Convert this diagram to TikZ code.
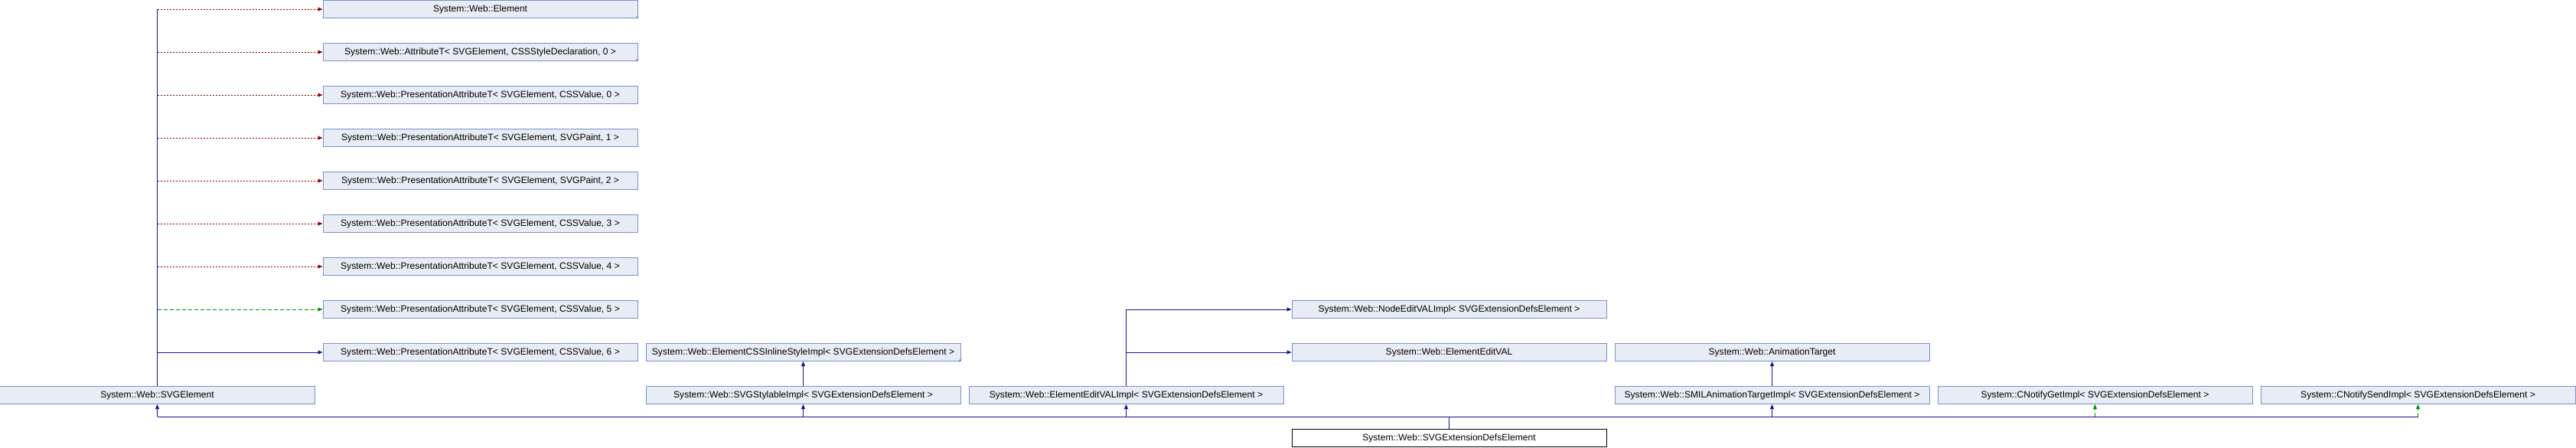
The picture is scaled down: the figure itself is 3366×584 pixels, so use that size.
\documentclass[tikz,border=0pt]{standalone}
\usepackage{fontspec}
\setmainfont{Liberation Sans}
\usepackage{tikz}
\usetikzlibrary{arrows.meta}

\definecolor{boxfill}{RGB}{232,236,245}
\definecolor{boxline}{RGB}{122,146,200}
\definecolor{pubblue}{RGB}{20,20,150}
\definecolor{privred}{RGB}{150,0,0}
\definecolor{protgreen}{RGB}{0,150,0}

\begin{document}
\begin{tikzpicture}[x=422pt,y=-56pt,
    cls/.style={draw=boxline,fill=boxfill,line width=1pt,minimum width=411pt,
      minimum height=23pt,inner sep=0pt,font=\fontsize{12.1}{14}\selectfont},
    me/.style={cls,draw=black,fill=white},
    pub/.style={draw=pubblue,line width=1pt},
    prot/.style={draw=protgreen,line width=1pt,dash pattern=on 5pt off 3pt},
    priv/.style={draw=privred,line width=1pt,dash pattern=on 2pt off 2pt},
    tip/.style={-{Triangle[length=6pt,width=5pt]}}]
    \useasboundingbox (-205.5pt,12pt) rectangle (3160.5pt,-572pt);

    % left column
    \node[cls] (elem) at (1,0) {System::Web::Element};
    \node[cls] (attr) at (1,1) {System::Web::AttributeT< SVGElement, CSSStyleDeclaration, 0 >};
    \node[cls] (pa0) at (1,2) {System::Web::PresentationAttributeT< SVGElement, CSSValue, 0 >};
    \node[cls] (pa1) at (1,3) {System::Web::PresentationAttributeT< SVGElement, SVGPaint, 1 >};
    \node[cls] (pa2) at (1,4) {System::Web::PresentationAttributeT< SVGElement, SVGPaint, 2 >};
    \node[cls] (pa3) at (1,5) {System::Web::PresentationAttributeT< SVGElement, CSSValue, 3 >};
    \node[cls] (pa4) at (1,6) {System::Web::PresentationAttributeT< SVGElement, CSSValue, 4 >};
    \node[cls] (pa5) at (1,7) {System::Web::PresentationAttributeT< SVGElement, CSSValue, 5 >};
    \node[cls] (pa6) at (1,8) {System::Web::PresentationAttributeT< SVGElement, CSSValue, 6 >};
    \node[cls] (svg) at (0,9) {System::Web::SVGElement};

    % middle
    \node[cls] (inl) at (2,8) {System::Web::ElementCSSInlineStyleImpl< SVGExtensionDefsElement >};
    \node[cls] (styl) at (2,9) {System::Web::SVGStylableImpl< SVGExtensionDefsElement >};
    \node[cls] (editimpl) at (3,9) {System::Web::ElementEditVALImpl< SVGExtensionDefsElement >};
    \node[cls] (nodeedit) at (4,7) {System::Web::NodeEditVALImpl< SVGExtensionDefsElement >};
    \node[cls] (edit) at (4,8) {System::Web::ElementEditVAL};
    \node[me] (ext) at (4,10) {System::Web::SVGExtensionDefsElement};

    % right
    \node[cls] (anim) at (5,8) {System::Web::AnimationTarget};
    \node[cls] (smil) at (5,9) {System::Web::SMILAnimationTargetImpl< SVGExtensionDefsElement >};
    \node[cls] (nget) at (6,9) {System::CNotifyGetImpl< SVGExtensionDefsElement >};
    \node[cls] (nsend) at (7,9) {System::CNotifySendImpl< SVGExtensionDefsElement >};

    % truncated marks
    \fill[boxline] (elem.south east) -- ++(-4pt,0) -- ++(4pt,4pt) -- cycle;
    \fill[boxline] (attr.south east) -- ++(-4pt,0) -- ++(4pt,4pt) -- cycle;
    \fill[boxline] (inl.south east) -- ++(-4pt,0) -- ++(4pt,4pt) -- cycle;

    % SVGElement bases
    \draw[pub] (svg.north) -- (svg.north |- elem.west);
    \draw[priv,tip] (svg.north |- elem.west) -- (elem.west);
    \draw[priv,tip] (svg.north |- attr.west) -- (attr.west);
    \draw[priv,tip] (svg.north |- pa0.west) -- (pa0.west);
    \draw[priv,tip] (svg.north |- pa1.west) -- (pa1.west);
    \draw[priv,tip] (svg.north |- pa2.west) -- (pa2.west);
    \draw[priv,tip] (svg.north |- pa3.west) -- (pa3.west);
    \draw[priv,tip] (svg.north |- pa4.west) -- (pa4.west);
    \draw[prot,tip] (svg.north |- pa5.west) -- (pa5.west);
    \draw[pub,tip] (svg.north |- pa6.west) -- (pa6.west);

    % other chains
    \draw[pub,tip] (styl.north) -- (inl.south);
    \draw[pub,tip] (editimpl.north) |- (nodeedit.west);
    \draw[pub,tip] (editimpl.north |- edit.west) -- (edit.west);
    \draw[pub,tip] (smil.north) -- (anim.south);

    % bus from the class
    \coordinate (bus) at (4,9.5);
    \draw[pub] (ext.north) -- (bus);
    \draw[pub] (svg.south |- bus) -- (nsend.south |- bus);
    \draw[pub,tip] (svg.south |- bus) -- (svg.south);
    \draw[pub,tip] (styl.south |- bus) -- (styl.south);
    \draw[pub,tip] (editimpl.south |- bus) -- (editimpl.south);
    \draw[pub,tip] (smil.south |- bus) -- (smil.south);
    \draw[prot,tip] (nget.south |- bus) -- (nget.south);
    \draw[prot,tip] (nsend.south |- bus) -- (nsend.south);
\end{tikzpicture}
\end{document}
